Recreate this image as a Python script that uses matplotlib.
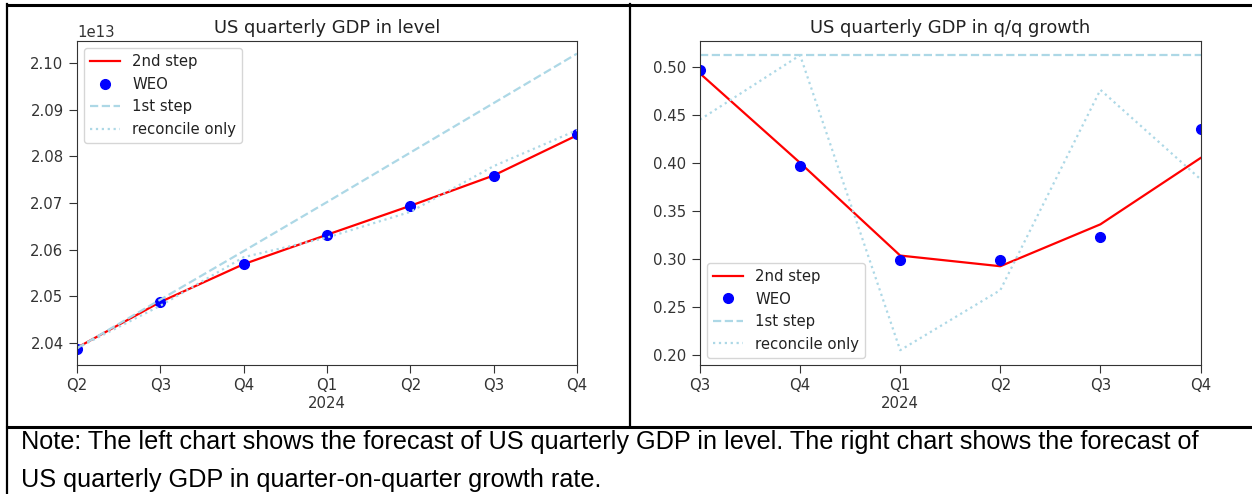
import matplotlib
matplotlib.use('Agg')
import matplotlib.pyplot as plt
from matplotlib.lines import Line2D

W, H = 1252, 494

# quarters shown on each panel
quarters_level = ['Q2', 'Q3', 'Q4', 'Q1\n2024', 'Q2', 'Q3', 'Q4']
quarters_growth = ['Q3', 'Q4', 'Q1\n2024', 'Q2', 'Q3', 'Q4']

# US quarterly GDP in level
level_2nd = [2.0390e13, 2.0488e13, 2.0569e13, 2.0632e13, 2.0694e13, 2.0759e13, 2.0845e13]
level_weo = [2.0387e13, 2.0488e13, 2.0570e13, 2.0632e13, 2.0694e13, 2.0758e13, 2.0847e13]
level_1st = [2.0389e13, 2.0493e13, 2.0597e13, 2.0702e13, 2.0808e13, 2.0914e13, 2.1020e13]
level_rec = [2.0389e13, 2.0480e13, 2.0584e13, 2.0626e13, 2.0681e13, 2.0779e13, 2.0856e13]

# US quarterly GDP q/q growth (%)
growth_2nd = [0.493, 0.400, 0.3035, 0.2924, 0.336, 0.405]
growth_weo = [0.497, 0.397, 0.299, 0.299, 0.323, 0.435]
growth_1st = [0.512, 0.512, 0.512, 0.512, 0.512, 0.512]
growth_rec = [0.445, 0.512, 0.205, 0.2675, 0.476, 0.383]

note_line1 = ('Note: The left chart shows the forecast of US quarterly GDP in level. '
              'The right chart shows the forecast of')
note_line2 = 'US quarterly GDP in quarter-on-quarter growth rate.'

plt.rcParams['font.size'] = 10.75
plt.rcParams['axes.titlesize'] = 12.9
plt.rcParams['xtick.major.size'] = 5.5
plt.rcParams['ytick.major.size'] = 5.5
plt.rcParams['xtick.major.pad'] = 4.2
plt.rcParams['ytick.major.pad'] = 4.2
plt.rcParams['axes.edgecolor'] = '#333333'
plt.rcParams['xtick.color'] = '#333333'
plt.rcParams['ytick.color'] = '#333333'
plt.rcParams['text.color'] = '#222222'

fig = plt.figure(figsize=(W / 100, H / 100), dpi=100)


def box(x0, x1, y_top, y_bot):
    return [x0 / W, 1 - y_bot / H, (x1 - x0) / W, (y_bot - y_top) / H]


def draw(ax, labels, s2, weo, s1, rec, title, loc):
    x = list(range(len(labels)))
    ax.plot(x, s2, color='red', lw=1.6, label='2nd step')
    ax.plot(x, weo, 'o', color='blue', ms=7, label='WEO')
    ax.plot(x, s1, '--', color='lightblue', lw=1.6, label='1st step')
    ax.plot(x, rec, ':', color='lightblue', lw=1.6, label='reconcile only')
    ax.set_xticks(x)
    ax.set_xticklabels(labels)
    ax.set_xlim(x[0], x[-1])
    ax.set_title(title)
    ax.legend(loc=loc)


ax1 = fig.add_axes(box(77, 577, 41, 365))
draw(ax1, quarters_level, level_2nd, level_weo, level_1st, level_rec,
     'US quarterly GDP in level', 'upper left')
ax1.set_ylim(2.0353e13, 2.1047e13)
ax1.set_yticks([2.04e13, 2.05e13, 2.06e13, 2.07e13, 2.08e13, 2.09e13, 2.10e13])

ax2 = fig.add_axes(box(700, 1200.5, 41, 365))
draw(ax2, quarters_growth, growth_2nd, growth_weo, growth_1st, growth_rec,
     'US quarterly GDP in q/q growth', 'lower left')
ax2.set_ylim(0.1896, 0.5268)
ax2.set_yticks([0.20, 0.25, 0.30, 0.35, 0.40, 0.45, 0.50])


# table borders around the two panels and the note
def hline(y, x0, x1, lw=2.2):
    fig.add_artist(Line2D([x0 / W, x1 / W], [1 - y / H, 1 - y / H], color='black', lw=lw))


def vline(x, y0, y1, lw=1.6):
    fig.add_artist(Line2D([x / W, x / W], [1 - y0 / H, 1 - y1 / H], color='black', lw=lw))


hline(5.5, 7, W)
hline(426.5, 7, W)
vline(7, 4.5, H)
vline(630, 4.5, 427)

fig.text(21 / W, 1 - 449 / H, note_line1, family='Liberation Sans', fontsize=18.2,
         color='black', va='baseline', ha='left')
fig.text(21 / W, 1 - 486.5 / H, note_line2, family='Liberation Sans', fontsize=18.2,
         color='black', va='baseline', ha='left')

fig.savefig('out.png', dpi=100)
